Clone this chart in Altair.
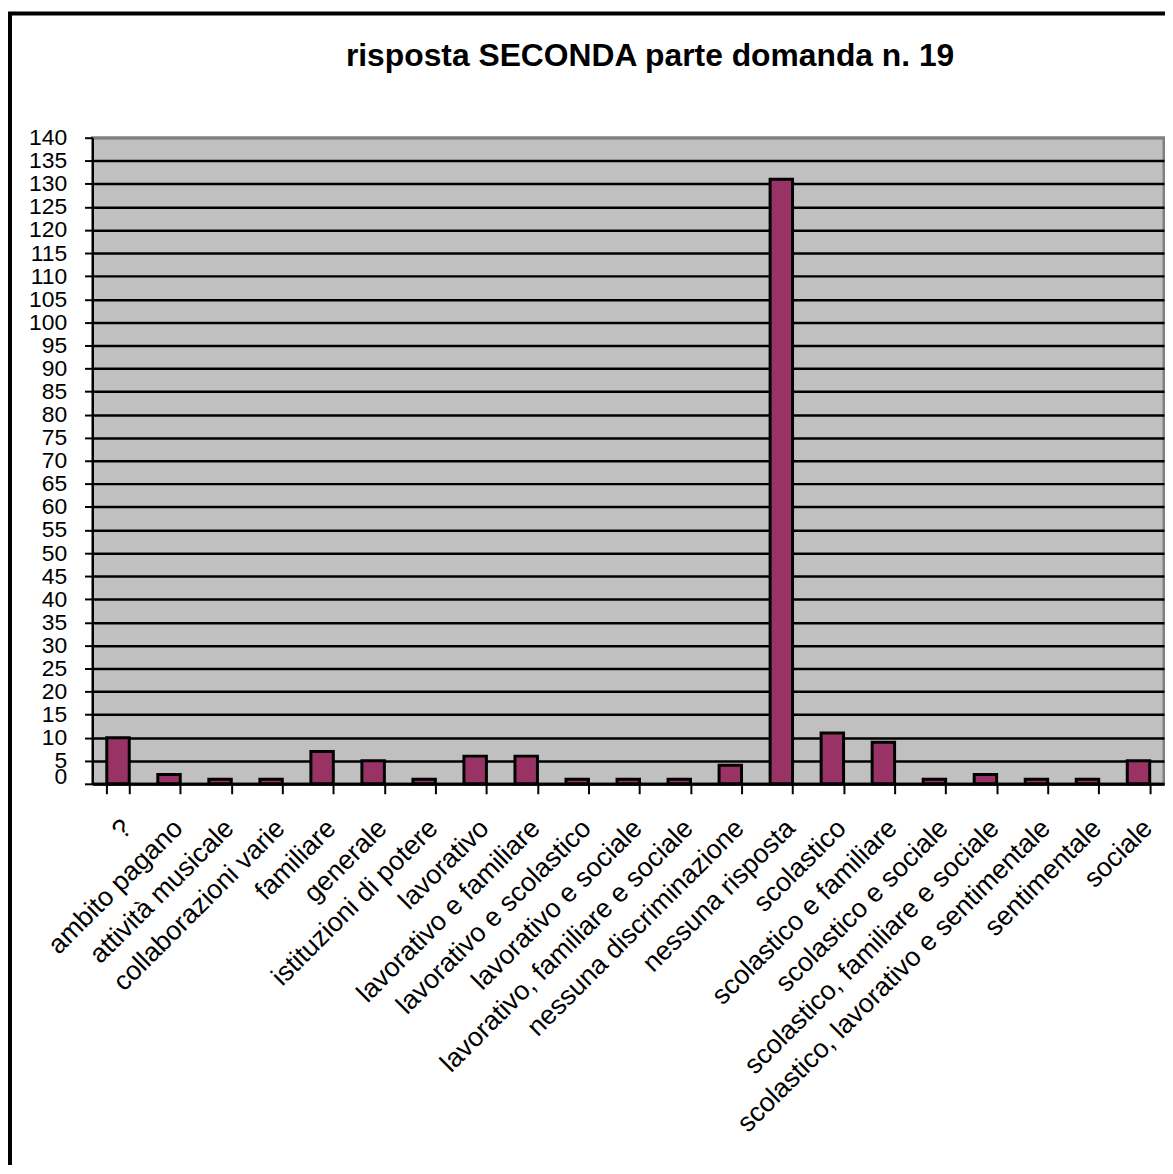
import altair as alt
import pandas as pd

categories = ["?", "ambito pagano", "attività musicale", "collaborazioni varie", "familiare",
              "generale", "istituzioni di potere", "lavorativo", "lavorativo e familiare",
              "lavorativo e scolastico", "lavorativo e sociale", "lavorativo, familiare e sociale",
              "nessuna discriminazione", "nessuna risposta", "scolastico", "scolastico e familiare",
              "scolastico e sociale", "scolastico, familiare e sociale",
              "scolastico, lavorativo e sentimentale", "sentimentale", "sociale"]
values = [10, 2, 1, 1, 7, 5, 1, 6, 6, 1, 1, 1, 4, 131, 11, 9, 1, 2, 1, 1, 5]
y_ticks = list(range(0, 145, 5))
title_text = "risposta SECONDA parte domanda n. 19"

FONT = "Liberation Sans"
W, H = 1078, 650

df = pd.DataFrame({"cat": categories, "val": values})

bars = alt.Chart(df).mark_bar(color="#993366", stroke="black", strokeWidth=3).encode(
    x=alt.X("cat:N", sort=categories,
            scale=alt.Scale(paddingInner=0.56, paddingOuter=0.28),
            axis=alt.Axis(title=None, labelAngle=-45, labelAlign="right", labelBaseline="top",
                          labelFontSize=27, labelFont=FONT, labelColor="black", labelLimit=1000,
                          labelOverlap=False, labelPadding=21, tickBand="extent", tickSize=10,
                          tickColor="black", tickWidth=2, domainColor="black", domainWidth=3,
                          grid=False)),
    y=alt.Y("val:Q", scale=alt.Scale(domain=[0, 140], nice=False),
            axis=alt.Axis(title=None, values=y_ticks, labelFontSize=23, labelFont=FONT,
                          labelColor="black", labelOverlap=False, labelPadding=18,
                          labelBaseline={"condition": {"test": "datum.value == 0", "value": "alphabetic"},
                                         "value": "middle"},
                          tickSize=8, tickColor="black", tickWidth=2,
                          domainColor="black", domainWidth=2,
                          grid=True, gridWidth=2.5,
                          gridColor={"condition": {"test": "datum.value == 140", "value": "#808080"},
                                     "value": "black"})),
)

frame = alt.Chart(pd.DataFrame({"k": [0]})).mark_rect(
    filled=False, stroke="black", strokeWidth=4
).encode(
    x=alt.value(-83), x2=alt.value(1300), y=alt.value(-125), y2=alt.value(1100)
)

title = alt.Chart(pd.DataFrame({"t": [title_text]})).mark_text(
    font=FONT, fontSize=32, fontWeight="bold", color="black", align="center", baseline="alphabetic"
).encode(
    text="t:N", x=alt.value(W / 2 + 22), y=alt.value(-72)
)

chart = alt.layer(frame, bars, title).properties(
    width=W,
    height=H,
    padding={"left": 85, "top": 127, "right": 1, "bottom": 380},
    autosize=alt.AutoSizeParams(type="none"),
    background="white",
).configure_view(fill="#C0C0C0", stroke="#808080", strokeWidth=3)

chart.save("out.html", embed_options={"renderer": "svg", "actions": False})
